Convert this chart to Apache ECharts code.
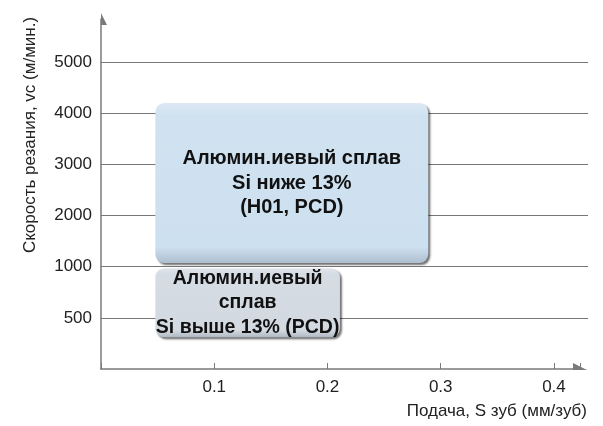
<!DOCTYPE html>
<html>
<head>
<meta charset="utf-8">
<script src="https://cdn.jsdelivr.net/npm/echarts@6/dist/echarts.min.js"></script>
<style>
  html, body { margin: 0; padding: 0; background: #fff; }
  #chart { width: 603px; height: 426px; }
</style>
</head>
<body>
<div id="chart"></div>
<script>
// Cutting-speed ranges for aluminium alloys by feed per tooth
const speedTicks = [0, 500, 1000, 2000, 3000, 4000, 5000];   // vc, m/min (non-uniform scale)
const feedTicks = [0.1, 0.2, 0.3, 0.4];                        // S per tooth, mm

const boxLabels = [
  'Алюмин.иевый сплав\nSi ниже 13%\n(H01, PCD)',
  'Алюмин.иевый\nсплав\nSi выше 13% (PCD)'
];
const feedFrom = [0.048, 0.048];
const feedTo = [0.289, 0.211];
const speedFrom = [1070, 310];
const speedTo = [4200, 985];

// Map a speed to its position on the stepped vc axis (one step per tick)
function speedLevel(v) {
  for (let i = 1; i < speedTicks.length; i++) {
    if (v <= speedTicks[i]) {
      return i - 1 + (v - speedTicks[i - 1]) / (speedTicks[i] - speedTicks[i - 1]);
    }
  }
  return speedTicks.length - 1;
}

const boxData = boxLabels.map((name, i) => ({
  name: name,
  value: [feedFrom[i], feedTo[i], speedLevel(speedFrom[i]), speedLevel(speedTo[i])]
}));

const boxFills = [
  ['#dde9f4', '#d0e2f0', '#cde0ef', '#aebfcf'],
  ['#e2e6eb', '#d6dce4', '#d3d9e1', '#b0b8c3']
];
const boxFont = [20, 19.5];
const fontFamily = 'Liberation Sans, Arial, Helvetica, sans-serif';

const chart = echarts.init(document.getElementById('chart'), null, { renderer: 'canvas' });

const axisGray = '#7a7a7a';

chart.setOption({
  animation: false,
  grid: { left: 101, top: 19, width: 479, height: 350, containLabel: false },
  xAxis: {
    type: 'value',
    min: 0,
    max: 0.423,
    interval: 0.1,
    name: 'Подача, S зуб (мм/зуб)',
    nameLocation: 'end',
    nameGap: 7,
    nameTextStyle: { fontSize: 17, color: '#222', fontFamily: fontFamily, align: 'right', verticalAlign: 'top', padding: [34, 0, 0, 0] },
    axisLine: {
      lineStyle: { color: axisGray, width: 1.5 },
      symbol: ['none', 'path://M12,14 M7,0 L0,14 L7,14 Z'],
      symbolSize: [14, 14]
    },
    axisTick: { show: true, inside: true, length: 6, lineStyle: { color: axisGray, width: 1 } },
    splitLine: { show: false },
    axisLabel: {
      fontSize: 17, color: '#222', margin: 10,
      fontFamily: fontFamily,
      formatter: v => {
        const t = feedTicks.find(f => Math.abs(f - v) < 1e-6);
        return t === undefined ? '' : String(t);
      }
    }
  },
  yAxis: {
    type: 'value',
    min: 0,
    max: 6.84,
    interval: 1,
    name: 'Скорость резания, vc (м/мин.)',
    nameLocation: 'middle',
    nameRotate: 90,
    nameGap: 62,
    nameTextStyle: { fontSize: 17, color: '#222', fontFamily: fontFamily, padding: [0, 0, 0, 118] },
    axisLine: {
      show: true,
      lineStyle: { color: axisGray, width: 1.5 },
      symbol: ['none', 'path://M0,12 M6,0 L12,12 L6,12 Z'],
      symbolSize: [12, 12]
    },
    axisTick: { show: false },
    splitLine: { show: false },
    axisLabel: {
      fontSize: 17, color: '#222', margin: 9,
      fontFamily: fontFamily,
      formatter: v => {
        const i = Math.round(v);
        if (Math.abs(v - i) > 1e-6 || i < 1 || i >= speedTicks.length) return '';
        return String(speedTicks[i]);
      }
    }
  },
  series: [
    {
      // horizontal guide lines at each vc tick
      type: 'line',
      data: [],
      z: 1,
      markLine: {
        silent: true,
        symbol: 'none',
        label: { show: false },
        lineStyle: { color: '#777', width: 1, type: 'solid' },
        data: speedTicks.slice(1).map((s, i) => [
          { coord: [0, i + 1] },
          { x: 588, coord: [0.423, i + 1] }
        ])
      }
    },
    {
      type: 'custom',
      z: 5,
      data: boxData,
      renderItem: (params, api) => {
        const i = params.dataIndex;
        const p0 = api.coord([api.value(0), api.value(3)]);
        const p1 = api.coord([api.value(1), api.value(2)]);
        const x = p0[0], y = p0[1];
        const w = p1[0] - p0[0], h = p1[1] - p0[1];
        const fill = boxFills[i];
        return {
          type: 'group',
          children: [
            {
              type: 'rect',
              shape: { x: x, y: y, width: w, height: h, r: 9 },
              style: {
                fill: new echarts.graphic.LinearGradient(0, 0, 0, 1, [
                  { offset: 0, color: fill[0] },
                  { offset: 0.08, color: fill[1] },
                  { offset: 0.9, color: fill[2] },
                  { offset: 1, color: fill[3] }
                ]),
                shadowBlur: 2,
                shadowOffsetX: 2,
                shadowOffsetY: 2,
                shadowColor: 'rgba(0,0,0,0.55)'
              }
            },
            {
              type: 'text',
              style: {
                text: boxLabels[i],
                x: x + w / 2,
                y: y + h / 2,
                align: 'center',
                verticalAlign: 'middle',
                fontSize: boxFont[i],
                lineHeight: 24.5,
                fontWeight: 'bold',
                fontFamily: fontFamily,
                fill: '#111'
              }
            }
          ]
        };
      }
    }
  ]
});
</script>
</body>
</html>
